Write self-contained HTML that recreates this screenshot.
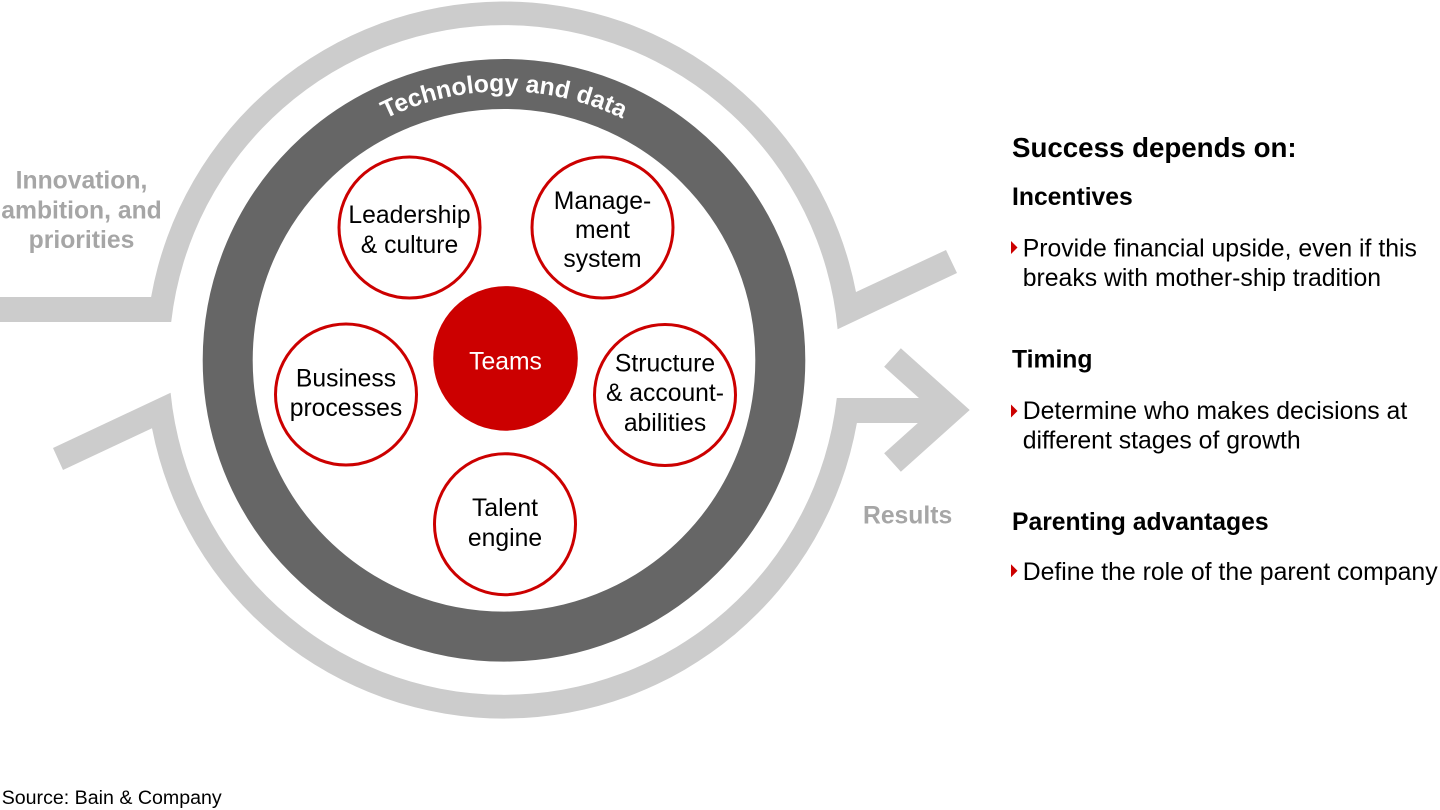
<!DOCTYPE html>
<html>
<head>
<meta charset="utf-8">
<style>
  html, body { margin: 0; padding: 0; background: #fff; }
  body { width: 1440px; height: 810px; overflow: hidden; }
  svg { display: block; }
  text { font-family: "Liberation Sans", Arial, sans-serif; }
</style>
</head>
<body>
<svg width="1440" height="810" viewBox="0 0 1440 810" xmlns="http://www.w3.org/2000/svg">
  <defs>
    <path id="arcText" d="M235,360.3 A269,269 0 0 1 773,360.3" fill="none"/>
  </defs>

  <!-- Light gray outer ring: upper part with left bar and right diagonal -->
  <path d="M0,297 L151.1,297 A358.5,358.5 0 0 1 856,292 L946,250 L957,273 L837.6,329.2 A335,335 0 0 0 171.2,322 L0,322 Z" fill="#cccccc"/>

  <!-- Light gray outer ring: lower part with left diagonal and right arrow bar -->
  <path d="M53,448 L170.6,392.7 A335,335 0 0 0 836.8,398 L950,398 L950,423 L856.9,423 A358.5,358.5 0 0 1 152,428.2 L63,470 Z" fill="#cccccc"/>

  <!-- Arrow chevron -->
  <polyline points="892.5,357.5 951,410 892.5,462.5" fill="none" stroke="#cccccc" stroke-width="25" stroke-linejoin="miter" stroke-miterlimit="10"/>

  <!-- Dark ring -->
  <circle cx="504" cy="360.3" r="276.3" fill="none" stroke="#666666" stroke-width="50"/>

  <!-- Curved text -->
  <text font-size="24.7" font-weight="bold" fill="#ffffff">
    <textPath href="#arcText" startOffset="50%" text-anchor="middle">Technology and data</textPath>
  </text>

  <!-- Red outline circles -->
  <g fill="#ffffff" stroke="#cc0000" stroke-width="3">
    <circle cx="409.5" cy="227.5" r="70.5"/>
    <circle cx="602.5" cy="227.5" r="70.5"/>
    <circle cx="346" cy="394.5" r="70.5"/>
    <circle cx="665" cy="395" r="70.5"/>
    <circle cx="505" cy="524.2" r="70.5"/>
  </g>
  <!-- Teams filled -->
  <circle cx="505.5" cy="358.4" r="72.3" fill="#cc0000"/>

  <!-- Circle labels -->
  <g font-size="24.7" fill="#000000" text-anchor="middle">
    <text x="409.5" y="223">Leadership</text>
    <text x="409.5" y="253">&amp; culture</text>

    <text x="602.5" y="209">Manage-</text>
    <text x="602.5" y="238">ment</text>
    <text x="602.5" y="267">system</text>

    <text x="346" y="386.7">Business</text>
    <text x="346" y="416">processes</text>

    <text x="665" y="371.7">Structure</text>
    <text x="665" y="401">&amp; account-</text>
    <text x="665" y="431">abilities</text>

    <text x="505" y="516">Talent</text>
    <text x="505" y="546">engine</text>
  </g>
  <text x="505.5" y="369.3" font-size="24.7" fill="#ffffff" text-anchor="middle">Teams</text>

  <!-- Left gray label -->
  <g font-size="24.7" font-weight="bold" fill="#a6a6a6" text-anchor="middle">
    <text x="81.5" y="188.3">Innovation,</text>
    <text x="81.5" y="218.3">ambition, and</text>
    <text x="81.5" y="248">priorities</text>
  </g>

  <!-- Results -->
  <text x="863" y="523.3" font-size="24.7" font-weight="bold" fill="#a6a6a6">Results</text>

  <!-- Right column -->
  <text x="1012" y="157" font-size="27.7" font-weight="bold" fill="#000">Success depends on:</text>

  <text x="1012" y="205" font-size="24.7" font-weight="bold" fill="#000">Incentives</text>
  <polygon points="1011,241 1017.5,247.5 1011,254" fill="#cc0000"/>
  <text x="1022.7" y="256.7" font-size="24.8" fill="#000">Provide financial upside, even if this</text>
  <text x="1022.7" y="286" font-size="24.8" fill="#000">breaks with mother-ship tradition</text>

  <text x="1012" y="367.3" font-size="24.7" font-weight="bold" fill="#000">Timing</text>
  <polygon points="1011,404.5 1017.5,411 1011,417.5" fill="#cc0000"/>
  <text x="1022.7" y="419" font-size="24.8" fill="#000">Determine who makes decisions at</text>
  <text x="1022.7" y="448.5" font-size="24.8" fill="#000">different stages of growth</text>

  <text x="1012" y="530" font-size="24.7" font-weight="bold" fill="#000">Parenting advantages</text>
  <polygon points="1011,564.3 1017.5,570.8 1011,577.3" fill="#cc0000"/>
  <text x="1022.7" y="580" font-size="24.8" fill="#000">Define the role of the parent company</text>

  <!-- Source -->
  <text x="1.7" y="804" font-size="19.6" fill="#000">Source: Bain &amp; Company</text>
</svg>
</body>
</html>
